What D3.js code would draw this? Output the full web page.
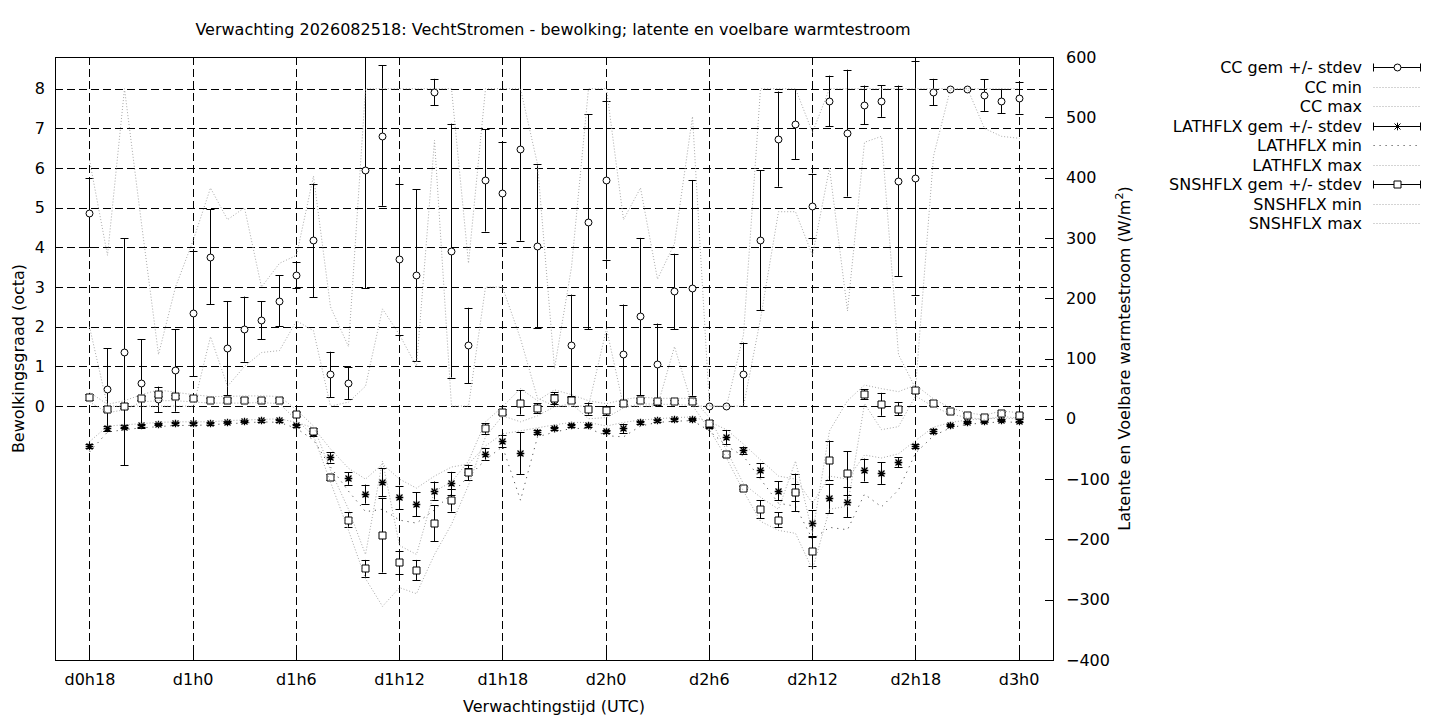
<!DOCTYPE html>
<html>
<head>
<meta charset="utf-8">
<style>
  body { margin: 0; background: #fff; }
  svg text { font-family: "DejaVu Sans", sans-serif; font-size: 16px; fill: #000; }
  .axis path.domain { display: none; }
  .axis line { stroke: #000; }
</style>
</head>
<body>
<svg id="chart" width="1440" height="720"></svg>
<script src="https://d3js.org/d3.v7.min.js"></script>
<script>
// forecast hour (hours after d0h0)
const hours = [18, 19, 20, 21, 22, 23, 24, 25, 26, 27, 28, 29, 30, 31, 32, 33, 34, 35, 36,
  37, 38, 39, 40, 41, 42, 43, 44, 45, 46, 47, 48, 49, 50, 51, 52, 53, 54, 55,
  56, 57, 58, 59, 60, 61, 62, 63, 64, 65, 66, 67, 68, 69, 70, 71, 72];

const xTickValues = [18, 24, 30, 36, 42, 48, 54, 60, 66, 72];
const xTickLabels = ['d0h18', 'd1h0', 'd1h6', 'd1h12', 'd1h18', 'd2h0', 'd2h6', 'd2h12', 'd2h18', 'd3h0'];
const yLeftTicks = [0, 1, 2, 3, 4, 5, 6, 7, 8];
const yRightTicks = [-400, -300, -200, -100, 0, 100, 200, 300, 400, 500, 600];

// bewolking (octa)
const ccMean = [4.88, 0.42, 1.37, 0.57, 0.17, 0.90,
  2.34, 3.77, 1.46, 1.94, 2.16, 2.66,
  3.30, 4.18, 0.80, 0.58, 5.94, 6.82,
  3.70, 3.30, 7.92, 3.92, 1.53, 5.69,
  5.38, 6.48, 4.03, 0.15, 1.53, 4.65,
  5.69, 1.31, 2.26, 1.05, 2.89, 2.98,
  0.00, 0.00, 0.80, 4.18, 6.73, 7.11,
  5.05, 7.69, 6.88, 7.59, 7.69, 5.68,
  5.75, 7.92, 8.00, 8.00, 7.84, 7.69,
  7.77];
const ccSd = [0.88, 1.04, 2.86, 1.12, 0.32, 1.04,
  1.57, 1.20, 1.19, 0.82, 0.48, 0.64,
  0.33, 1.43, 0.57, 0.40, 2.97, 1.77,
  1.91, 2.17, 0.33, 3.20, 0.95, 1.29,
  1.27, 2.31, 2.07, 0.15, 1.28, 2.71,
  2.00, 1.25, 1.98, 1.03, 0.95, 2.72,
  0, 0, 0.80, 1.76, 1.20, 0.88,
  0.81, 0.64, 1.60, 0.49, 0.40, 2.40,
  2.96, 0.33, 0, 0, 0.40, 0.31,
  0.40];
const ccMin = [2.0, 0, 0, 0, 0, 0,
  0, 1.75, 0.5, 1.0, 1.35, 1.4,
  2.15, 1.9, 0, 0.1, 0.5, 2.45,
  1.8, 1.0, 6.7, 0, 0, 3.0,
  3.0, 1.7, 0.2, 0, 0, 0,
  1.95, 0, 0, 0, 1.5, 0,
  0, 0, 0, 2.2, 4.9, 4.9,
  3.8, 6.0, 2.4, 6.65, 6.8, 1.3,
  0.45, 6.3, 8, 8, 7.0, 6.8,
  6.75];
const ccMax = [6.2, 3.8, 8.0, 4.6, 1.3, 3.0,
  4.2, 5.5, 4.7, 5.0, 3.0, 3.6,
  3.8, 5.8, 2.5, 1.5, 8.0, 8.0,
  8.0, 8.0, 8.0, 8.0, 3.6, 8.0,
  8.0, 8.0, 6.1, 0.95, 3.5, 8.0,
  8.0, 4.7, 5.5, 3.2, 4.1, 7.3,
  0, 0, 1.8, 8.0, 8.0, 8.0,
  6.9, 8, 8, 8, 8, 8,
  8, 8, 8, 8, 8, 8,
  8];

// latente warmtestroom (W/m2)
const lathMean = [-45, -16, -13, -11, -9, -7.5,
  -7.5, -7.5, -5.5, -4, -2.5, -2.5,
  -11, -24, -64, -99, -125, -105,
  -130, -142, -119, -107, -88, -58,
  -37, -57, -22, -16, -11, -11,
  -21, -16, -6, -2.5, -1, 0,
  -12, -31, -52, -85, -119, -122,
  -173, -132, -138, -85, -90, -72,
  -45, -20, -10, -5, -3, -2,
  -3];
const lathSd = [3, 4, 3, 2, 2, 2,
  2, 2, 2, 2, 2, 2,
  3, 4, 8.6, 10.5, 15.8, 23,
  19, 20, 15, 19, 6, 9.7,
  9.7, 35, 4, 3, 3, 3,
  3, 8, 3, 2, 2, 2,
  4, 11.6, 6, 11.6, 15.8, 14,
  21, 24, 25, 19, 18, 8.3,
  4, 3, 2, 2, 2, 2,
  2];
const lathMin = [-55, -22, -18, -15, -13, -11,
  -11, -10, -8, -7, -5, -6,
  -16, -35, -80, -120, -154, -150,
  -168, -173, -151, -124, -96, -68,
  -46, -135, -30, -22, -16, -16,
  -28, -30, -12, -6, -4, -3,
  -20, -45, -62, -100, -140, -145,
  -200, -180, -184, -125, -146, -118,
  -57, -28, -15, -9, -7, -5,
  -6];
const lathMax = [-38, -12, -10, -8, -6, -5,
  -5, -5, -3, -2, -1, 0,
  -6, -15, -50, -82, -100, -75,
  -100, -115, -95, -80, -75, -45,
  -25, -20, -15, -10, -6, -6,
  -12, -6, -2, 0, 2, 3,
  -5, -18, -42, -68, -95, -100,
  -140, -95, -100, -60, -65, -58,
  -36, -14, -6, -2, 0, 1,
  0];

// voelbare warmtestroom (W/m2)
const snsMean = [36, 17, 22, 34, 41, 37,
  34, 31, 31, 31, 32, 31,
  8, -20, -97, -167, -248, -193,
  -238, -251, -173, -135, -89, -16,
  12, 27, 18, 34, 32, 17,
  14, 26, 31, 29, 29, 29,
  -7.5, -58, -114, -150, -167, -122,
  -220, -69, -90, 41, 24, 17,
  48, 27, 13, 6, 3, 9,
  6];
const snsSd = [5, 4, 4, 3, 4, 3,
  3, 3, 3, 3, 3, 3,
  3, 4, 5, 12, 14, 62,
  19, 17, 30, 19, 13, 9,
  4, 20, 8, 10, 4, 10,
  8, 4, 3, 3, 3, 3,
  6, 4, 3, 15, 12, 31,
  24, 33, 36, 8, 19, 11,
  5, 4, 3, 3, 3, 3,
  3];
const snsMin = [28, 10, 15, 28, 30, 30,
  28, 26, 26, 26, 27, 25,
  -2, -28, -105, -185, -265, -311,
  -280, -290, -225, -175, -110, -30,
  5, -5, 5, 20, 25, 0,
  2, 18, 25, 24, 24, 22,
  -18, -65, -120, -170, -185, -190,
  -250, -150, -145, 25, -18, -13,
  38, 20, 8, 2, -1, 4,
  1];
const snsMax = [44, 24, 30, 40, 48, 44,
  40, 37, 37, 38, 38, 37,
  15, -12, -85, -150, -225, -70,
  -210, -225, -120, -105, -70, -5,
  20, 50, 30, 48, 40, 30,
  25, 32, 36, 34, 34, 34,
  2, -52, -108, -130, -150, -70,
  -190, -20, 30, 56, 50, 45,
  56, 33, 18, 10, 6, 13,
  10];

const titleText = 'Verwachting 2026082518: VechtStromen - bewolking; latente en voelbare warmtestroom';

const pLeft = 55, pRight = 1053, pTop = 57, pBottom = 660;
const svg = d3.select('#chart');

const x = d3.scaleLinear().domain([16, 74]).range([pLeft, pRight]);
const yL = d3.scaleLinear().domain([-6.4, 8.8]).range([pBottom, pTop]);
const yR = d3.scaleLinear().domain([-400, 600]).range([pBottom, pTop]);
// pixel-snapped x for crisp vertical bars
const xs = h => Math.round(x(h)) + 0.5;

svg.append('defs').append('clipPath').attr('id', 'plotclip')
  .append('rect')
  .attr('x', pLeft).attr('y', pTop)
  .attr('width', pRight - pLeft).attr('height', pBottom - pTop);

// grid
const grid = svg.append('g')
  .attr('stroke', '#000')
  .attr('stroke-width', 1)
  .attr('stroke-dasharray', '8,4')
  .attr('shape-rendering', 'crispEdges');

grid.selectAll('line.vx')
  .data(xTickValues)
  .enter().append('line')
  .attr('class', 'vx')
  .attr('x1', d => xs(d)).attr('x2', d => xs(d))
  .attr('y1', pTop).attr('y2', pBottom);

grid.selectAll('line.hy')
  .data(yLeftTicks)
  .enter().append('line')
  .attr('class', 'hy')
  .attr('y1', d => Math.round(yL(d)) + 0.5).attr('y2', d => Math.round(yL(d)) + 0.5)
  .attr('x1', pLeft).attr('x2', pRight);

// axes
const fontFix = g => g.selectAll('text')
  .style('font-size', '16px')
  .style('font-family', '"DejaVu Sans", sans-serif');

svg.append('g')
  .attr('class', 'axis')
  .attr('transform', `translate(0,${pBottom})`)
  .call(d3.axisBottom(x)
    .tickValues(xTickValues)
    .tickFormat((d, i) => xTickLabels[i])
    .tickSizeInner(-8).tickSizeOuter(0).tickPadding(14))
  .call(fontFix);

svg.append('g')
  .attr('class', 'axis')
  .attr('transform', `translate(${pLeft},0)`)
  .call(d3.axisLeft(yL)
    .tickValues(yLeftTicks)
    .tickFormat(d3.format('d'))
    .tickSizeInner(-8).tickSizeOuter(0).tickPadding(10))
  .call(fontFix);

svg.append('g')
  .attr('class', 'axis')
  .attr('transform', `translate(${pRight},0)`)
  .call(d3.axisRight(yR)
    .tickValues(yRightTicks)
    .tickFormat(d3.format('d'))
    .tickSizeInner(-8).tickSizeOuter(0).tickPadding(13))
  .call(fontFix);

svg.selectAll('.axis line').attr('shape-rendering', 'crispEdges');

// border
svg.append('rect')
  .attr('x', pLeft + 0.5).attr('y', pTop + 0.5)
  .attr('width', pRight - pLeft).attr('height', pBottom - pTop)
  .attr('fill', 'none').attr('stroke', '#000').attr('stroke-width', 1)
  .attr('shape-rendering', 'crispEdges');

// labels
svg.append('text')
  .attr('x', 553).attr('y', 35)
  .attr('text-anchor', 'middle')
  .text(titleText);

svg.append('text')
  .attr('x', (pLeft + pRight) / 2).attr('y', 712)
  .attr('text-anchor', 'middle')
  .text('Verwachtingstijd (UTC)');

svg.append('text')
  .attr('transform', `translate(24,${(pTop + pBottom) / 2}) rotate(-90)`)
  .attr('text-anchor', 'middle')
  .text('Bewolkingsgraad (octa)');

const rlab = svg.append('text')
  .attr('transform', `translate(1130,${(pTop + pBottom) / 2}) rotate(-90)`)
  .attr('text-anchor', 'middle');
rlab.append('tspan').text('Latente en Voelbare warmtestroom (W/m');
rlab.append('tspan').attr('dy', -7).style('font-size', '11px').text('2');
rlab.append('tspan').attr('dy', 7).text(')');

// marker shapes
function markerPath(kind) {
  if (kind === 'star') {
    const s = 3.8, d = 3;
    return `M${-s},0H${s}M0,${-s}V${s}M${-d},${-d}L${d},${d}M${-d},${d}L${d},${-d}`;
  }
  if (kind === 'square') return 'M-3.5,-3.5H3.5V3.5H-3.5Z';
  return d3.symbol().type(d3.symbolCircle).size(38)();
}

const plot = svg.append('g').attr('clip-path', 'url(#plotclip)');

const dotGray = { stroke: '#a8a8a8', dash: '1,2' };
const dotDark = { stroke: '#555', dash: '1.2,4.8' };

function drawErrors(mean, sd, y, kind) {
  const g = plot.append('g').attr('stroke', '#000').attr('stroke-width', 1).attr('fill', 'none');
  const pts = hours.map((h, i) => ({ h, m: mean[i], s: sd[i] }));
  const withBar = pts.filter(p => p.s > 0);
  g.selectAll('line.bar').data(withBar).enter().append('line')
    .attr('x1', p => xs(p.h)).attr('x2', p => xs(p.h))
    .attr('y1', p => y(p.m - p.s)).attr('y2', p => y(p.m + p.s));
  g.selectAll('line.lo').data(withBar).enter().append('line')
    .attr('x1', p => xs(p.h) - 4).attr('x2', p => xs(p.h) + 4)
    .attr('y1', p => Math.round(y(p.m - p.s)) + 0.5).attr('y2', p => Math.round(y(p.m - p.s)) + 0.5);
  g.selectAll('line.hi').data(withBar).enter().append('line')
    .attr('x1', p => xs(p.h) - 4).attr('x2', p => xs(p.h) + 4)
    .attr('y1', p => Math.round(y(p.m + p.s)) + 0.5).attr('y2', p => Math.round(y(p.m + p.s)) + 0.5);
  g.selectAll('path.pt').data(pts).enter().append('path')
    .attr('transform', p => `translate(${xs(p.h)},${Math.round(y(p.m)) + 0.5})`)
    .attr('d', markerPath(kind))
    .attr('stroke-width', kind === 'star' ? 1.3 : 1)
    .attr('fill', kind === 'star' ? 'none' : '#fff');
}

function drawLine(vals, y, style) {
  const line = d3.line().x((d, i) => xs(hours[i])).y(d => y(d));
  plot.append('path')
    .attr('d', line(vals))
    .attr('fill', 'none')
    .attr('stroke', style.stroke)
    .attr('stroke-width', 1)
    .attr('stroke-dasharray', style.dash);
}

drawErrors(ccMean, ccSd, yL, 'circle');
drawLine(ccMin, yL, dotGray);
drawLine(ccMax, yL, dotGray);
drawErrors(lathMean, lathSd, yR, 'star');
drawLine(lathMin, yR, dotDark);
drawLine(lathMax, yR, dotGray);
drawErrors(snsMean, snsSd, yR, 'square');
drawLine(snsMin, yR, dotGray);
drawLine(snsMax, yR, dotGray);

// legend
const legendItems = [
  { label: 'CC gem +/- stdev', kind: 'circle' },
  { label: 'CC min', style: dotGray },
  { label: 'CC max', style: dotGray },
  { label: 'LATHFLX gem +/- stdev', kind: 'star' },
  { label: 'LATHFLX min', style: dotDark },
  { label: 'LATHFLX max', style: dotGray },
  { label: 'SNSHFLX gem +/- stdev', kind: 'square' },
  { label: 'SNSHFLX min', style: dotGray },
  { label: 'SNSHFLX max', style: dotGray }
];

const legend = svg.append('g');
legendItems.forEach((it, i) => {
  const cy = Math.round(67 + i * 19.5) + 0.5;
  legend.append('text')
    .attr('x', 1362).attr('y', cy + 5.5)
    .attr('text-anchor', 'end')
    .text(it.label);
  const x0 = 1373.5, x1 = 1420.5;
  if (it.kind) {
    const g = legend.append('g').attr('stroke', '#000').attr('stroke-width', 1);
    g.append('line').attr('x1', x0).attr('x2', x1).attr('y1', cy).attr('y2', cy);
    g.append('line').attr('x1', x0).attr('x2', x0).attr('y1', cy - 4).attr('y2', cy + 4);
    g.append('line').attr('x1', x1).attr('x2', x1).attr('y1', cy - 4).attr('y2', cy + 4);
    g.append('path')
      .attr('transform', `translate(${Math.round((x0 + x1) / 2) + 0.5},${cy})`)
      .attr('d', markerPath(it.kind))
      .attr('fill', it.kind === 'star' ? 'none' : '#fff');
  } else {
    legend.append('line')
      .attr('x1', x0).attr('x2', x1).attr('y1', cy).attr('y2', cy)
      .attr('stroke', it.style.stroke).attr('stroke-width', 1)
      .attr('stroke-dasharray', it.style.dash);
  }
});
</script>
</body>
</html>
